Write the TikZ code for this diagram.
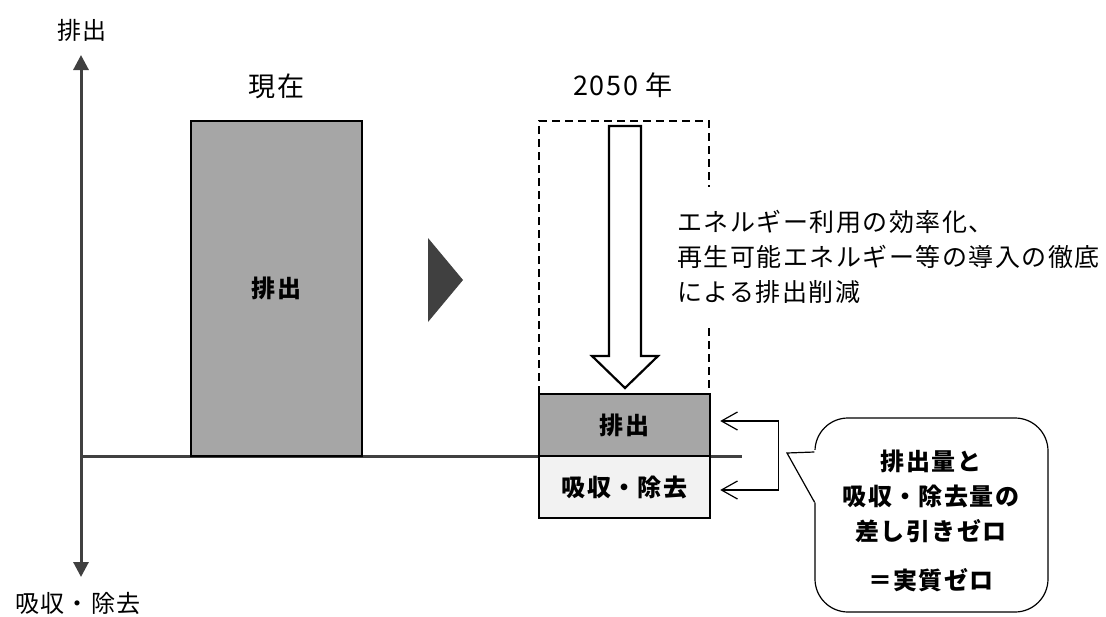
\documentclass[tikz,border=0pt]{standalone}
\usepackage{fontspec}
\setmainfont{Noto Sans CJK JP}[LetterSpace=6]
\usepackage{xcolor}
\definecolor{axisgray}{RGB}{64,64,64}
\definecolor{emitgray}{RGB}{166,166,166}
\definecolor{sinkgray}{RGB}{242,242,242}
\usepackage{tikz}
\usetikzlibrary{positioning,arrows.meta,calc}
\newcommand{\txtfont}{\fontsize{24}{35}\selectfont}
\newcommand{\bigtxtfont}{\fontsize{25}{35}\selectfont}
\newcommand{\titlefont}{\fontsize{27}{32}\selectfont}

\begin{document}
\begin{tikzpicture}[x=1pt,y=-1pt,
  axisline/.style={draw=axisgray,line width=3pt},
  axistip/.style={{Triangle[width=15pt,length=15pt]}-{Triangle[width=15pt,length=15pt]}},
  emitbox/.style={draw=black,fill=emitgray,inner sep=0pt,font=\txtfont\bfseries},
  sinkbox/.style={emitbox,fill=sinkgray},
  dashbox/.style={draw=black,line width=2.2pt,dash pattern=on 8pt off 5pt},
  hollowarrow/.style={draw=black,fill=white,line width=2.2pt,line join=miter},
  bracket/.style={draw=black,line width=1.2pt,
    {Straight Barb[length=16pt,width=18pt]}-{Straight Barb[length=16pt,width=18pt]}},
  callout/.style={draw=black,line width=1.2pt,fill=white,rounded corners=33pt},
  plaintxt/.style={font=\txtfont,inner sep=0pt},
  titletxt/.style={font=\titlefont,inner sep=0pt}]
  \useasboundingbox (0,0) rectangle (1106,616);

  % axes
  \coordinate (axtop) at (81,55);
  \coordinate (axbot) at (81,577);
  \coordinate (origin) at (81,456);
  \coordinate (axend) at (742,456);
  \draw[axisline,axistip] (axtop) -- (axbot);
  \draw[axisline] (origin) -- (axend);
  \node[plaintxt] (lblemit) at (82,30) {排出};
  \node[plaintxt] (lblsink) at (78,603) {吸収・除去};

  % today
  \node[emitbox,line width=2pt,minimum width=171pt,minimum height=335pt] (nowbar) at (276.5,288.5) {排出};
  \node[titletxt] (nowtitle) at (276.5,86) {現在};
  \fill[axisgray] (428,238) -- (463,280) -- (428,322) -- cycle;

  % 2050
  \node[titletxt] (futtitle) at (623,85) {2050 年};
  \draw[dashbox] (539,394) -- (539,121) -- (709,121) -- (709,394);
  \draw[hollowarrow] (609,126) -- (641,126) -- (641,356) -- (658,356) -- (625,388)
    -- (592,356) -- (609,356) -- cycle;
  \node[emitbox,line width=2.5pt,minimum width=171pt,minimum height=62pt] (emitnew) at (624.5,425) {排出};
  \node[sinkbox,line width=2.5pt,minimum width=171pt,minimum height=62pt] (sinknew) at (624.5,487) {吸収・除去};
  \node[plaintxt,font=\bigtxtfont,align=left,anchor=west,fill=white,inner xsep=2pt,inner ysep=23pt] (measures) at (675,257)
    {エネルギー利用の効率化、\\再生可能エネルギー等の導入の徹底\\による排出削減};

  % balance
  \draw[bracket] ([xshift=9pt,yshift=4pt]emitnew.east) -- ++(58,0) |- ([xshift=9pt,yshift=-3pt]sinknew.east);
  \node[callout,minimum width=233pt,minimum height=194pt] (zerobox) at (931.5,515) {};
  \coordinate (ptip) at (787,453);
  \fill[white] ($(zerobox.west)+(2,-65)$) -- (ptip) -- ($(zerobox.west)+(2,-11)$) -- cycle;
  \draw[line width=1.2pt,line join=miter] ($(zerobox.west)+(0,-63)$) -- (ptip) -- ($(zerobox.west)+(0,-13)$);
  \node[plaintxt,font=\txtfont\bfseries,align=center] (zerotxt) at (931,521)
    {排出量と\\吸収・除去量の\\差し引きゼロ\\[14pt]＝実質ゼロ};
\end{tikzpicture}
\end{document}
